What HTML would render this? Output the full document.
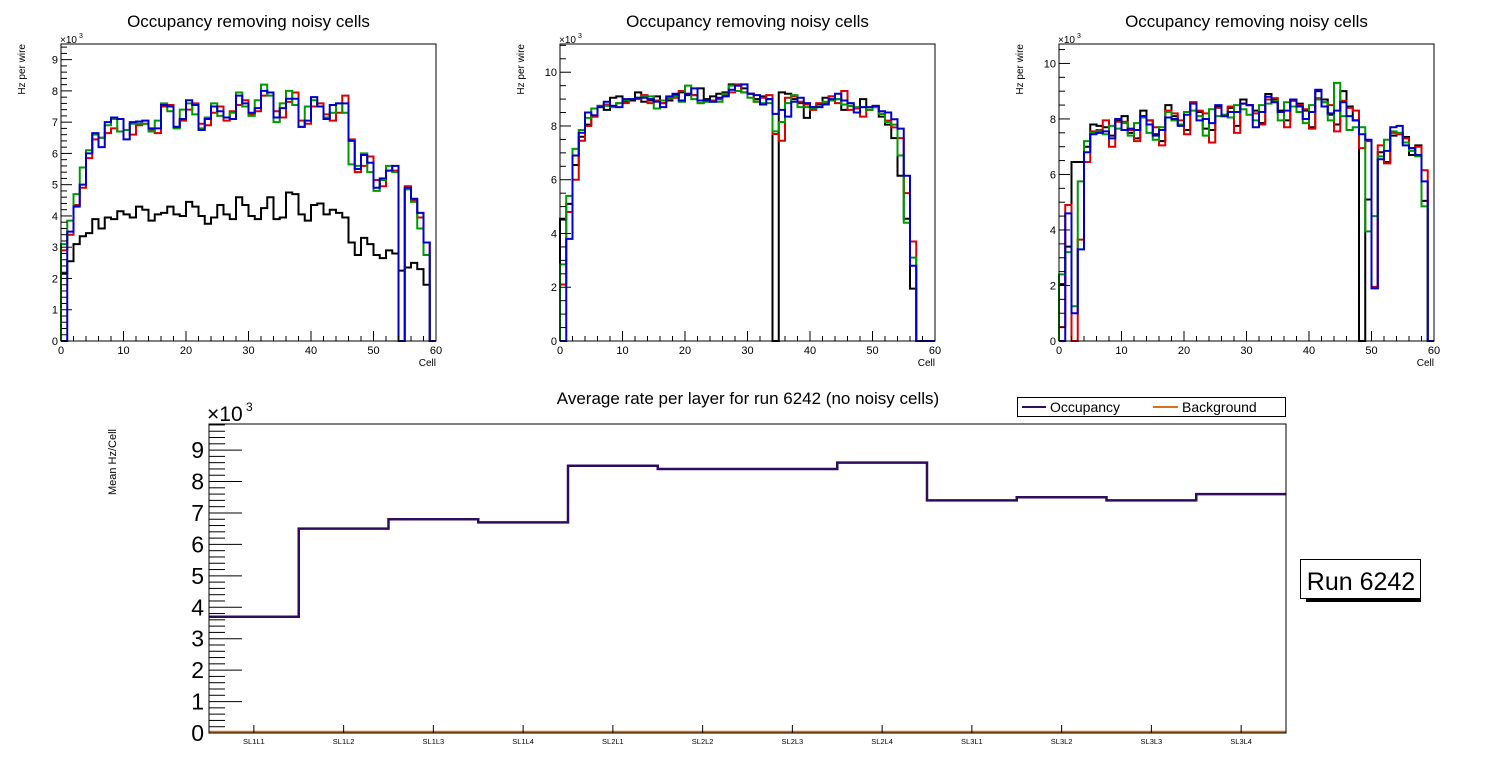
<!DOCTYPE html>
<html><head><meta charset="utf-8"><style>
body{margin:0;background:#fff;}
svg{display:block;font-family:"Liberation Sans",sans-serif;}
</style></head><body>
<svg id="c" width="1496" height="772" viewBox="0 0 1496 772"></svg>
<script>
const p1Black=[2.15,2.55,3.1,3.35,3.45,3.9,3.6,3.95,3.9,4.15,4.05,3.95,4.3,4.2,3.85,4.05,4.1,4.3,4.05,4.0,4.45,4.3,4.0,3.75,3.95,4.35,4.05,3.9,4.6,4.35,4.0,3.9,4.25,4.6,3.9,3.95,4.75,4.7,4.05,3.85,4.35,4.4,4.05,4.2,4.1,3.95,3.15,2.75,3.3,3.1,2.75,2.65,2.9,2.8,2.25,2.35,2.5,2.3,1.8,0];
const p1Red=[2.9,3.4,4.35,4.9,5.85,6.45,6.5,6.65,6.8,6.7,6.75,6.6,6.9,6.95,6.75,6.65,7.5,7.55,6.85,7.05,7.4,7.6,6.95,6.9,7.3,7.5,7.05,7.35,7.55,7.7,7.25,7.35,7.85,7.95,7.35,7.15,7.65,7.95,7.05,6.95,7.5,7.6,7.25,7.05,7.3,7.85,6.45,5.4,5.6,5.9,5.15,4.95,5.45,5.45,0,4.95,4.5,3.95,3.15,0];
const p1Green=[3.1,3.85,4.7,5.55,6.1,6.6,6.5,6.9,7.1,6.7,6.75,6.95,6.95,6.95,6.7,7.05,7.6,7.35,6.8,7.4,7.6,7.25,6.8,7.15,7.6,7.2,7.15,7.3,7.95,7.5,7.2,7.7,8.2,7.85,7.0,7.6,8.0,7.55,6.85,7.5,7.7,7.5,7.15,7.3,7.6,7.3,5.65,5.6,6.0,5.4,4.8,5.15,5.6,5.4,0,4.85,4.45,3.6,2.75,0];
const p1Blue=[0,3.5,4.3,5.0,6.0,6.65,6.2,7.0,7.15,7.1,6.45,7.0,7.02,7.05,6.8,6.8,7.55,7.5,6.85,7.1,7.7,7.55,6.75,7.1,7.5,7.35,7.15,7.1,7.85,7.6,7.3,7.45,8.0,7.95,7.15,7.45,7.75,7.75,6.85,7.05,7.8,7.5,7.1,7.55,7.6,7.6,6.4,5.5,5.95,5.7,4.9,5.2,5.45,5.6,0,4.9,4.55,4.1,3.15,0];
const p2Black=[4.55,5.1,6.55,7.6,8.05,8.35,8.75,8.6,9.05,9.1,8.9,8.95,9.25,8.9,8.95,9.1,8.85,8.95,9.15,9.25,9.15,9.15,9.4,9.0,9.1,9.2,9.25,9.55,9.5,9.4,9.2,9.0,9.1,9.0,0,9.25,9.2,9.0,8.85,8.3,8.7,8.8,9.05,9.1,9.0,8.6,8.75,8.65,9.0,8.6,8.7,8.35,8.05,7.55,6.15,4.55,1.95,0,0,0];
const p2Red=[2.1,4.8,6.0,7.45,8.0,8.35,8.75,8.8,8.75,8.85,8.85,9.0,9.0,9.15,8.85,8.95,8.85,9.0,9.05,9.3,9.2,9.15,8.85,8.95,8.95,9.0,9.15,9.25,9.55,9.25,9.2,8.9,9.05,9.15,7.7,7.45,9.05,9.1,8.9,8.8,8.6,8.85,8.85,9.1,8.85,9.3,8.6,8.65,8.35,8.6,8.75,8.45,8.2,7.95,7.55,5.5,3.7,0,0,0];
const p2Green=[2.85,5.4,7.15,7.85,8.3,8.65,8.7,8.75,8.7,8.85,8.95,9.0,9.05,9.1,9.1,8.65,8.95,9.05,9.1,8.9,9.5,9.0,8.85,8.9,8.9,8.9,9.2,9.5,9.3,9.25,9.05,8.9,8.85,8.85,7.8,8.15,8.85,9.15,8.7,8.7,8.65,8.7,8.9,8.95,9.0,8.8,8.75,8.7,8.7,8.6,8.7,8.45,8.15,8.05,6.9,4.4,3.1,0,0,0];
const p2Blue=[0,3.8,6.9,7.75,8.5,8.4,8.7,8.9,8.75,8.7,9.0,9.0,9.05,9.05,9.0,8.9,8.7,9.1,9.2,8.95,9.2,9.4,8.95,8.95,8.9,9.05,9.1,9.35,9.5,9.55,9.2,9.15,8.8,9.0,8.45,8.6,8.35,8.9,9.05,8.85,8.7,8.7,8.8,9.0,9.2,8.95,8.85,8.5,8.7,8.7,8.75,8.55,8.5,8.25,7.9,6.15,2.8,0,0,0];
const p3Black=[2.05,3.4,6.45,6.45,7.0,7.8,7.75,7.7,7.4,7.95,8.1,7.5,7.3,8.3,7.95,7.45,7.2,8.5,8.1,7.8,7.6,8.6,8.25,7.65,7.6,8.45,8.1,8.4,7.75,8.7,8.5,8.3,7.85,8.9,8.7,8.3,7.95,8.7,8.55,8.3,7.7,9.0,8.7,8.15,7.8,9.0,8.45,7.95,0,5.1,1.9,6.8,6.45,7.4,7.5,7.35,6.7,7.05,5.05,0];
const p3Red=[0.5,4.9,0,3.65,6.45,7.55,7.6,7.95,7.0,7.9,7.9,7.6,7.2,8.1,7.95,7.7,7.05,8.3,8.2,7.95,7.45,8.6,8.3,8.2,7.15,8.4,8.15,8.45,7.5,8.55,8.5,8.2,7.8,8.7,8.75,8.25,7.7,8.65,8.5,8.35,7.65,8.75,8.6,8.5,7.55,8.65,8.4,8.3,6.95,7.2,1.95,7.05,6.4,7.5,7.45,7.3,6.95,7.0,6.15,0];
const p3Green=[2.4,3.2,1.25,5.75,7.2,7.5,7.55,7.45,7.75,7.65,7.85,7.4,7.85,8.05,7.5,7.25,7.7,8.25,7.95,7.8,8.25,8.3,8.1,7.4,8.35,8.1,8.15,8.05,8.5,8.35,8.15,7.95,8.5,8.55,8.65,7.95,8.6,8.45,8.25,7.85,8.5,8.7,8.6,7.95,9.3,8.1,7.6,7.7,7.7,3.95,4.5,6.65,7.25,7.55,7.5,7.15,6.85,6.65,4.85,0];
const p3Blue=[0,4.6,1.0,3.3,6.8,7.45,7.5,7.55,7.3,8.0,7.6,7.65,7.6,8.1,7.8,7.4,7.6,8.05,8.0,7.75,8.15,8.55,7.95,8.0,7.85,8.5,8.1,8.25,8.25,8.55,8.5,7.7,8.25,8.8,8.6,8.25,8.3,8.7,8.45,8.0,8.25,9.05,8.45,8.2,8.3,8.6,8.1,7.95,7.45,7.25,1.9,6.55,6.85,7.7,7.75,7.05,6.95,6.7,5.75,0];
const xTickLabels=["0","10","20","30","40","50","60"];
const layerNames=["SL1L1","SL1L2","SL1L3","SL1L4","SL2L1","SL2L2","SL2L3","SL2L4","SL3L1","SL3L2","SL3L3","SL3L4"];
const occupancy=[3.7,6.5,6.8,6.7,8.5,8.4,8.4,8.6,7.4,7.5,7.4,7.6];
const background=[0.03,0.03,0.03,0.03,0.03,0.03,0.03,0.03,0.03,0.03,0.03,0.03];
const bottomYTicks=[0,1,2,3,4,5,6,7,8,9];

const NS="http://www.w3.org/2000/svg";
const svg=document.getElementById('c');
function mk(tag,attrs,parent){const e=document.createElementNS(NS,tag);for(const k in attrs)e.setAttribute(k,attrs[k]);(parent||svg).appendChild(e);return e;}
function txt(s,attrs,parent){const e=mk('text',attrs,parent);e.textContent=s;return e;}

function panel(idx,L,R,T,B,ymax,major,minor,series){
  const g=mk('g',{});
  
  
  const sx=v=>L+(R-L)*v/60, sy=v=>B-(B-T)*v/ymax;
  const colors=['#000','#d00','#090','#00c'];
  const names=['layer1','layer2','layer3','layer4'];
  series.forEach((d,si)=>{
    let p='M'+sx(0)+','+sy(0);
    d.forEach((v,i)=>{p+=' L'+sx(i)+','+sy(v)+' L'+sx(i+1)+','+sy(v);});
    p+=' L'+sx(d.length)+','+sy(0);
    const path=mk('path',{d:p,fill:'none',stroke:colors[si],'stroke-width':2},g);
    
    
  });
  const fr=mk('rect',{x:L,y:T,width:R-L,height:B-T,fill:'none',stroke:'#000','stroke-width':1},g);
  
  
  for(let v=0;v<=60;v+=2){const x=sx(v);const len=v%10===0?10:5;mk('line',{x1:x,y1:B,x2:x,y2:B-len,stroke:'#000'},g);}
  xTickLabels.forEach((s,i)=>{const t=txt(s,{x:sx(i*10),y:B+13,'font-size':11,'text-anchor':'middle'},g);});
  for(let v=0;v<=ymax+1e-6;v+=minor){const y=sy(v);const isMaj=Math.abs(v/major-Math.round(v/major))<1e-6;mk('line',{x1:L,y1:y,x2:L+(isMaj?11:6),y2:y,stroke:'#000'},g);
    if(isMaj){const t=txt(String(Math.round(v)),{x:L-3,y:y+4,'font-size':11,'text-anchor':'end'},g);}}
  const ex=txt('×10',{x:L-1,y:T-1,'font-size':10},g);
  txt('3',{x:L+18,y:T-6,'font-size':7},g);
  const cx=(L+R)/2;
  const ti=txt('Occupancy removing noisy cells',{x:cx,y:27,'font-size':17,'text-anchor':'middle'},g);
  
  const yt=txt('Hz per wire',{x:0,y:0,'font-size':10,'text-anchor':'end',transform:`translate(${L-36},44) rotate(-90)`},g);
  
  const xt=txt('Cell',{x:R,y:B+25,'font-size':10,'text-anchor':'end'},g);
  
}
panel(1,61,436,44,341,9.5,1,0.2,[p1Black,p1Red,p1Green,p1Blue]);
panel(2,560,935,44,341,11.05,2,0.5,[p2Black,p2Red,p2Green,p2Blue]);
panel(3,1059,1434,44,341,10.7,2,0.5,[p3Black,p3Red,p3Green,p3Blue]);

(function(){
  const L=209,R=1286,T=424,B=733,ymax=9.83;
  const g=mk('g',{});
  
  
  const n=layerNames.length;
  const sx=i=>L+(R-L)*i/n, sy=v=>B-(B-T)*v/ymax;
  function step(d,color,name){
    let p='M'+sx(0)+','+sy(d[0]);
    d.forEach((v,i)=>{p+=' L'+sx(i)+','+sy(v)+' L'+sx(i+1)+','+sy(v);});
    const path=mk('path',{d:p,fill:'none',stroke:color,'stroke-width':2.5},g);
    
    
  }
  step(occupancy,'#2e0d5e','occupancy-line');
  step(background,'#d9701a','background-line');
  const fr=mk('rect',{x:L,y:T,width:R-L,height:B-T,fill:'none',stroke:'#000','stroke-width':1},g);
  
  
  for(let v=0;v<=ymax;v+=0.2){const y=sy(v);const maj=Math.abs(v-Math.round(v))<1e-6;mk('line',{x1:L,y1:y,x2:L+(maj?33:16),y2:y,stroke:'#000'},g);}
  bottomYTicks.forEach(v=>{const t=txt(String(v),{x:L-5,y:sy(v)+8,'font-size':23,'text-anchor':'end'},g);});
  layerNames.forEach((s,i)=>{const x=(sx(i)+sx(i+1))/2;mk('line',{x1:x,y1:B,x2:x,y2:B-8,stroke:'#000'},g);
    const t=txt(s,{x:x,y:744,'font-size':7.5,'text-anchor':'middle'},g);});
  const ex=txt('×10',{x:L-2,y:T-3,'font-size':21},g);
  txt('3',{x:L+37,y:T-13,'font-size':12},g);
  const ti=txt('Average rate per layer for run 6242 (no noisy cells)',{x:748,y:404,'font-size':17,'text-anchor':'middle'},g);
  
  const yt=txt('Mean Hz/Cell',{x:0,y:0,'font-size':11,'text-anchor':'middle',transform:'translate(116,462) rotate(-90)'},g);
  
  const lg=mk('g',{},g);
  
  
  mk('rect',{x:1017.5,y:397.5,width:268,height:19,fill:'#fff',stroke:'#000'},lg);
  mk('line',{x1:1022,y1:407,x2:1046,y2:407,stroke:'#2e0d5e','stroke-width':2},lg);
  const l1=txt('Occupancy',{x:1050,y:412,'font-size':14},lg);
  mk('line',{x1:1153,y1:407,x2:1178,y2:407,stroke:'#d9701a','stroke-width':2},lg);
  const l2=txt('Background',{x:1182,y:412,'font-size':14},lg);
  const rb=mk('g',{});
  
  
  mk('rect',{x:1306,y:595,width:115,height:7,fill:'#000'},rb);
  mk('rect',{x:1300.5,y:559.5,width:120,height:39,fill:'#fff',stroke:'#000'},rb);
  txt('Run 6242',{x:1361,y:590,'font-size':25,'text-anchor':'middle'},rb);
})();
</script>
</body></html>
